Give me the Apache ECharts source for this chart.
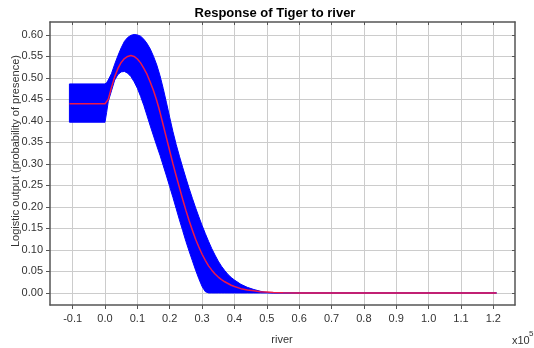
<!DOCTYPE html>
<html>
<head>
<meta charset="utf-8">
<script src="https://cdn.jsdelivr.net/npm/echarts@6/dist/echarts.min.js"></script>
<style>
  html, body { margin: 0; padding: 0; background: #fff; }
  #chart { width: 534px; height: 348px; }
</style>
</head>
<body>
<div id="chart"></div>
<script>
// river distance (x10^5) sampled along the response curve
const riverX = [
  -0.11, 0.00, 0.005, 0.01, 0.02, 0.03, 0.04, 0.05, 0.06, 0.07, 0.08, 0.09,
  0.10, 0.11, 0.12, 0.13, 0.14, 0.15, 0.16, 0.17, 0.18, 0.19,
  0.20, 0.21, 0.22, 0.23, 0.24, 0.25, 0.26, 0.27, 0.28, 0.29,
  0.30, 0.31, 0.32, 0.33, 0.34, 0.35, 0.36, 0.37, 0.38, 0.39,
  0.40, 0.42, 0.44, 0.46, 0.48, 0.50, 0.52, 0.55, 0.60, 1.21
];
// mean logistic output
const meanOutput = [
  0.440, 0.440, 0.442, 0.450, 0.478, 0.503, 0.522, 0.536, 0.545, 0.550, 0.552, 0.550,
  0.544, 0.535, 0.522, 0.508, 0.490, 0.470, 0.447, 0.420, 0.390, 0.360,
  0.330, 0.300, 0.272, 0.245, 0.218, 0.192, 0.168, 0.146, 0.125, 0.107,
  0.090, 0.076, 0.063, 0.053, 0.044, 0.037, 0.031, 0.026, 0.022, 0.018,
  0.015, 0.010, 0.007, 0.005, 0.003, 0.002, 0.001, 0.0005, 0, 0
];
// mean - one standard deviation
const lowerOutput = [
  0.397, 0.397, 0.420, 0.445, 0.470, 0.495, 0.508, 0.514, 0.515, 0.511, 0.503, 0.491,
  0.476, 0.457, 0.436, 0.412, 0.388, 0.365, 0.342, 0.320, 0.296, 0.272,
  0.247, 0.222, 0.196, 0.170, 0.145, 0.120, 0.097, 0.075, 0.053, 0.033,
  0.015, 0.003, 0, 0, 0, 0, 0, 0, 0, 0,
  0, 0, 0, 0, 0, 0, 0, 0, 0, 0
];
// mean + one standard deviation
const upperOutput = [
  0.486, 0.486, 0.489, 0.495, 0.510, 0.532, 0.552, 0.570, 0.585, 0.594, 0.599, 0.601,
  0.600, 0.597, 0.590, 0.580, 0.567, 0.550, 0.530, 0.505, 0.475, 0.442,
  0.408, 0.375, 0.345, 0.318, 0.292, 0.267, 0.243, 0.220, 0.198, 0.177,
  0.157, 0.138, 0.120, 0.103, 0.088, 0.074, 0.062, 0.052, 0.043, 0.036,
  0.030, 0.020, 0.013, 0.008, 0.004, 0.001, 0, 0, 0, 0
];
const xTicks = [-0.1, 0.0, 0.1, 0.2, 0.3, 0.4, 0.5, 0.6, 0.7, 0.8, 0.9, 1.0, 1.1, 1.2];
const yTicks = [0, 0.05, 0.10, 0.15, 0.20, 0.25, 0.30, 0.35, 0.40, 0.45, 0.50, 0.55, 0.60];

const X_MIN = -0.170, X_MAX = 1.267;
const Y_MIN = -0.028, Y_MAX = 0.630;

const frame = '#555555';
const textColor = '#333333';
const FONT = 'Liberation Sans, Arial, sans-serif';

const meanData = riverX.map((x, i) => [x, meanOutput[i]]);

// the +/- one standard deviation band, drawn as a single polygon
function renderBand(params, api) {
  const pts = [];
  for (let i = 0; i < riverX.length; i++) pts.push(api.coord([riverX[i], upperOutput[i]]));
  for (let i = riverX.length - 1; i >= 0; i--) pts.push(api.coord([riverX[i], lowerOutput[i]]));
  return {
    type: 'polygon',
    shape: { points: pts },
    style: { fill: '#0000ff', stroke: '#0000ff', lineWidth: 1 }
  };
}

const chart = echarts.init(document.getElementById('chart'), null, { renderer: 'canvas' });

const mirrorAxis = {
  type: 'value',
  axisLine: { show: true, onZero: false, lineStyle: { color: frame, width: 1.5 } },
  axisTick: { show: true, inside: true, length: 3, lineStyle: { color: frame, width: 1 } },
  axisLabel: { show: false },
  splitLine: { show: false }
};

chart.setOption({
  animation: false,
  backgroundColor: '#ffffff',
  textStyle: { fontFamily: FONT },
  grid: { left: 50, right: 19, top: 22, bottom: 43 },
  xAxis: [
    {
      type: 'value', position: 'bottom', min: X_MIN, max: X_MAX,
      axisLine: { show: true, onZero: false, lineStyle: { color: frame, width: 1.5 } },
      axisTick: { show: true, customValues: xTicks, length: 4, lineStyle: { color: frame } },
      axisLabel: {
        customValues: xTicks, margin: 8, fontSize: 11, color: textColor, fontFamily: FONT,
        formatter: v => v.toFixed(1)
      },
      splitLine: { show: true, lineStyle: { color: '#cccccc', width: 1 } }
    },
    Object.assign({ position: 'top', min: X_MIN, max: X_MAX }, mirrorAxis,
      { axisTick: Object.assign({}, mirrorAxis.axisTick, { customValues: xTicks }) })
  ],
  yAxis: [
    {
      type: 'value', position: 'left', min: Y_MIN, max: Y_MAX,
      axisLine: { show: true, onZero: false, lineStyle: { color: frame, width: 1.5 } },
      axisTick: { show: true, customValues: yTicks, length: 4, lineStyle: { color: frame } },
      axisLabel: {
        customValues: yTicks, margin: 7, fontSize: 11, color: textColor, fontFamily: FONT,
        formatter: v => v.toFixed(2)
      },
      splitLine: { show: true, lineStyle: { color: '#cccccc', width: 1 } }
    },
    Object.assign({ position: 'right', min: Y_MIN, max: Y_MAX }, mirrorAxis,
      { axisTick: Object.assign({}, mirrorAxis.axisTick, { customValues: yTicks }) })
  ],
  series: [
    {
      name: 'band', type: 'custom', renderItem: renderBand,
      data: [[riverX[0], upperOutput[0]]],
      encode: { x: 0, y: 1 }, silent: true, z: 2
    },
    {
      name: 'mean', type: 'line', data: meanData,
      symbol: 'none', silent: true,
      lineStyle: { color: '#ee1848', width: 1.5 }, z: 3
    }
  ],
  graphic: [
    {
      type: 'text', x: 275, y: 13,
      style: { text: 'Response of Tiger to river', font: 'bold 13px ' + FONT, fill: '#000',
               align: 'center', verticalAlign: 'middle' }
    },
    {
      type: 'text', x: 282, y: 340,
      style: { text: 'river', font: '11px ' + FONT, fill: textColor,
               align: 'center', verticalAlign: 'middle' }
    },
    {
      type: 'text', x: 512, y: 341,
      style: { text: 'x10', font: '11px ' + FONT, fill: textColor,
               align: 'left', verticalAlign: 'middle' }
    },
    {
      type: 'text', x: 529, y: 334,
      style: { text: '5', font: '8px ' + FONT, fill: textColor,
               align: 'left', verticalAlign: 'middle' }
    },
    {
      type: 'text', x: 16, y: 151, rotation: Math.PI / 2,
      style: { text: 'Logistic output (probability of presence)', font: '11px ' + FONT,
               fill: textColor, align: 'center', verticalAlign: 'middle' }
    }
  ]
});
</script>
</body>
</html>
